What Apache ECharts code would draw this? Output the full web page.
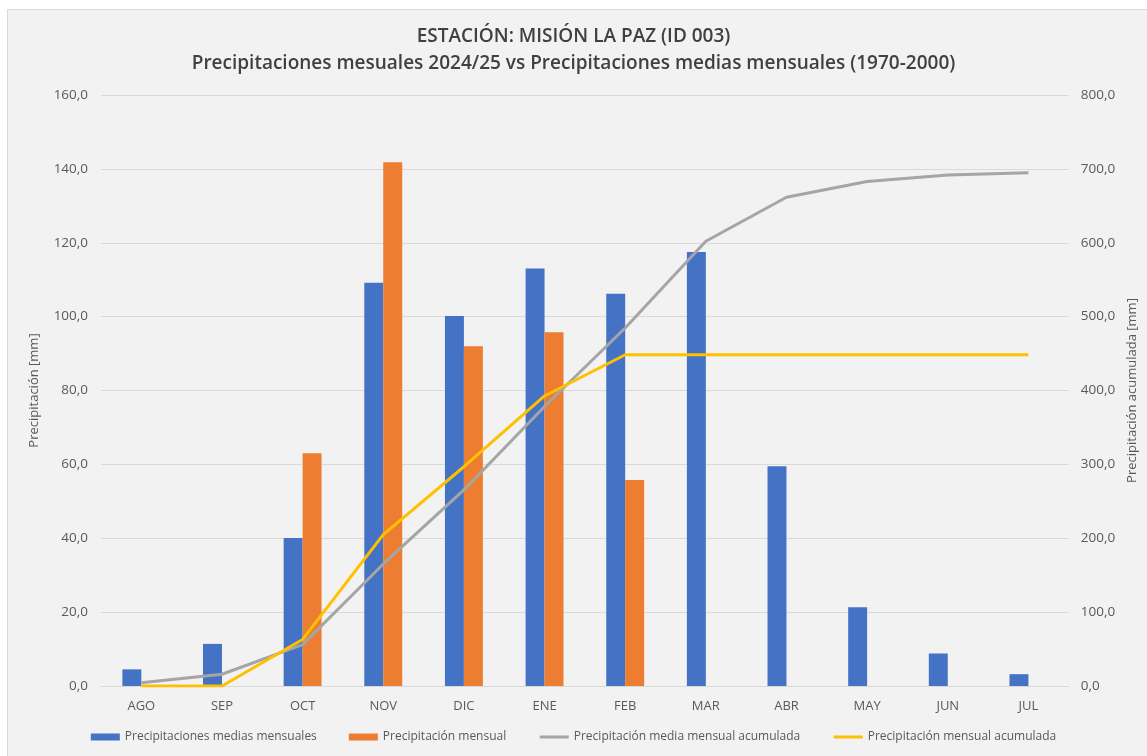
<!DOCTYPE html>
<html>
<head>
<meta charset="utf-8">
<script src="https://cdn.jsdelivr.net/npm/echarts@6/dist/echarts.min.js"></script>
<style>
  html, body { margin: 0; padding: 0; background: #ffffff; }
  #frame {
    position: absolute; left: 7px; top: 9px; width: 1147px; height: 756px;
    background: #f2f2f2; border: 1px solid #d9d9d9; box-sizing: border-box;
  }
  #chart { position: absolute; left: 0; top: 0; width: 1147px; height: 756px; }
</style>
</head>
<body>
<div id="frame"></div>
<div id="chart"></div>
<script>
// meses del año hidrológico
const months = ['AGO', 'SEP', 'OCT', 'NOV', 'DIC', 'ENE', 'FEB', 'MAR', 'ABR', 'MAY', 'JUN', 'JUL'];

// precipitaciones medias mensuales (1970-2000)
const mediaMensual = [4.5, 11.4, 40.1, 109.2, 100.2, 113.0, 106.2, 117.5, 59.5, 21.3, 8.8, 3.2];

// precipitación mensual 2024/25
const mensual = [null, null, 63.0, 141.8, 92.0, 95.8, 55.8, null, null, null, null, null];

// acumuladas (eje derecho)
const mediaAcumulada = [4.5, 15.9, 56.0, 165.2, 265.4, 378.4, 484.6, 602.1, 661.6, 682.9, 691.7, 694.9];
const mensualAcumulada = [0, 0, 63.0, 204.8, 296.8, 392.6, 448.4, 448.4, 448.4, 448.4, 448.4, 448.4];

const FONT = '"Open Sans", sans-serif';
const TXT = '#595959';
const fmt = v => v.toFixed(1).replace('.', ',');

const chart = echarts.init(document.getElementById('chart'), null, { renderer: 'canvas' });

chart.setOption({
  backgroundColor: 'transparent',
  animation: false,
  textStyle: { fontFamily: FONT },
  title: [
    {
      text: 'ESTACIÓN: MISIÓN LA PAZ (ID 003)',
      left: 'center', top: 22,
      textStyle: { fontFamily: FONT, fontSize: 19, fontWeight: 600, color: '#404040' }
    },
    {
      text: 'Precipitaciones mesuales 2024/25 vs Precipitaciones medias mensuales (1970-2000)',
      left: 'center', top: 49,
      textStyle: { fontFamily: FONT, fontSize: 19, fontWeight: 600, color: '#404040' }
    }
  ],
  grid: { left: 101, right: 77, top: 95, bottom: 70 },
  legend: {
    bottom: 8,
    left: 'center',
    itemWidth: 29,
    itemHeight: 7,
    itemGap: 32,
    textStyle: { fontFamily: FONT, fontSize: 12, color: TXT },
    data: [
      { name: 'Precipitaciones medias mensuales', icon: 'rect' },
      { name: 'Precipitación mensual', icon: 'rect' },
      { name: 'Precipitación media mensual acumulada', itemStyle: { opacity: 0 }, lineStyle: { width: 3 } },
      { name: 'Precipitación mensual acumulada', itemStyle: { opacity: 0 }, lineStyle: { width: 3 } }
    ]
  },
  xAxis: {
    type: 'category',
    data: months,
    axisLine: { lineStyle: { color: '#d9d9d9' } },
    axisTick: { show: false },
    axisLabel: { color: TXT, fontSize: 13, margin: 14, fontFamily: FONT }
  },
  yAxis: [
    {
      type: 'value',
      min: 0, max: 160, interval: 20,
      name: 'Precipitación [mm]',
      nameLocation: 'middle',
      nameGap: 60,
      nameRotate: 90,
      nameTextStyle: { color: TXT, fontSize: 13, fontFamily: FONT },
      axisLabel: { color: TXT, fontSize: 13.5, formatter: fmt, margin: 13 },
      axisLine: { show: false },
      axisTick: { show: false },
      splitLine: { lineStyle: { color: '#d9d9d9' } }
    },
    {
      type: 'value',
      min: 0, max: 800, interval: 100,
      name: 'Precipitación acumulada [mm]',
      nameLocation: 'middle',
      nameGap: 55,
      nameRotate: 90,
      nameTextStyle: { color: TXT, fontSize: 13, fontFamily: FONT },
      axisLabel: { color: TXT, fontSize: 13.5, formatter: fmt, margin: 12 },
      axisLine: { show: false },
      axisTick: { show: false },
      splitLine: { show: false }
    }
  ],
  series: [
    {
      name: 'Precipitaciones medias mensuales',
      type: 'bar',
      data: mediaMensual,
      itemStyle: { color: '#4472c4' },
      barGap: '0%',
      barCategoryGap: '53%'
    },
    {
      name: 'Precipitación mensual',
      type: 'bar',
      data: mensual,
      itemStyle: { color: '#ed7d31' }
    },
    {
      name: 'Precipitación media mensual acumulada',
      type: 'line',
      yAxisIndex: 1,
      data: mediaAcumulada,
      showSymbol: false,
      symbol: 'none',
      lineStyle: { color: '#a5a5a5', width: 3 },
      itemStyle: { color: '#a5a5a5' }
    },
    {
      name: 'Precipitación mensual acumulada',
      type: 'line',
      yAxisIndex: 1,
      data: mensualAcumulada,
      showSymbol: false,
      symbol: 'none',
      lineStyle: { color: '#ffc000', width: 3 },
      itemStyle: { color: '#ffc000' }
    }
  ]
});
</script>
</body>
</html>
